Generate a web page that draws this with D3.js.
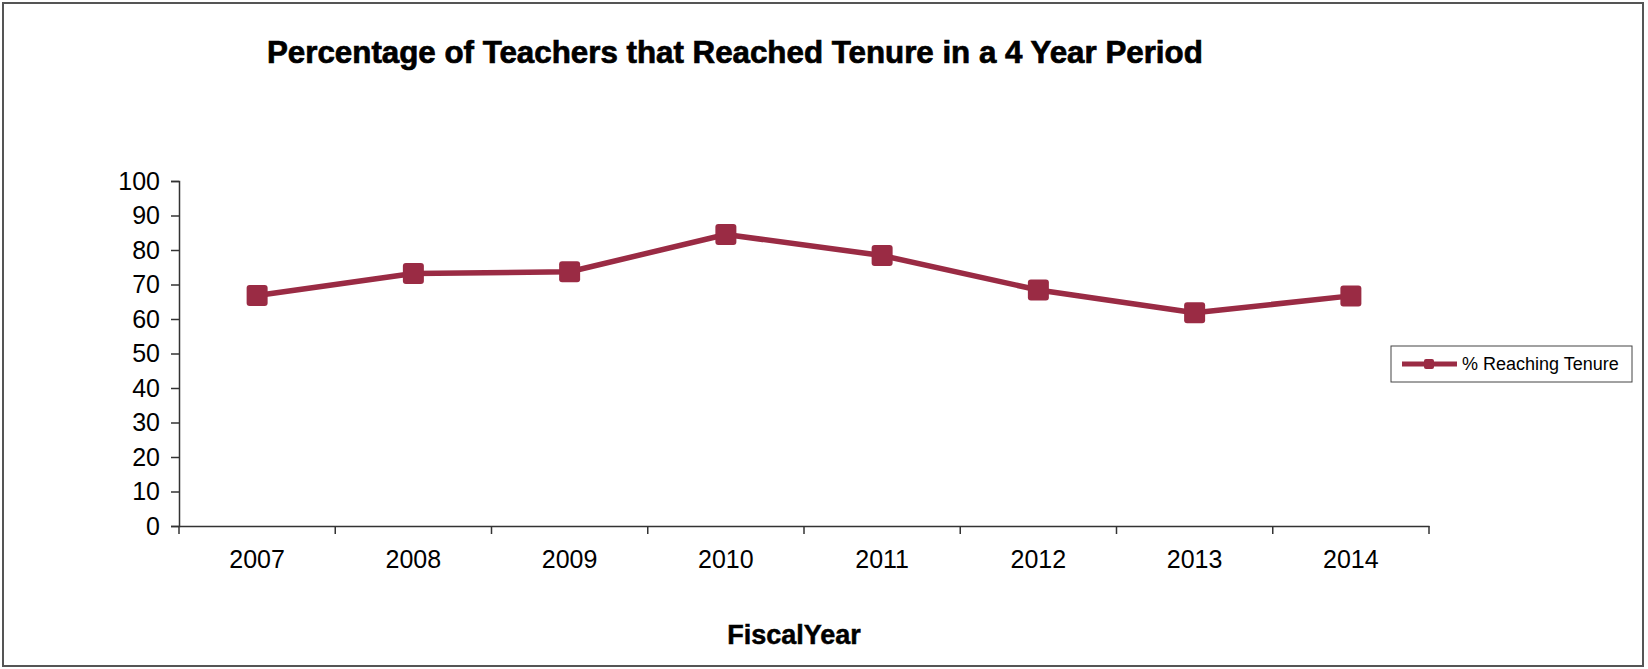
<!DOCTYPE html>
<html>
<head>
<meta charset="utf-8">
<script src="https://cdn.jsdelivr.net/npm/d3@7"></script>
<style>
html,body{margin:0;padding:0;background:#fff;}
text{font-family:"Liberation Sans",Arial,sans-serif;fill:#000;}
</style>
</head>
<body>
<svg id="chart" width="1648" height="669"></svg>
<script>
const years = ["2007","2008","2009","2010","2011","2012","2013","2014"];
const tenurePct = [66.8, 73.2, 73.7, 84.5, 78.4, 68.4, 61.8, 66.7];
const yTicks = [0,10,20,30,40,50,60,70,80,90,100];
const seriesName = "% Reaching Tenure";
const titleText = "Percentage of Teachers that Reached Tenure in a 4 Year Period";
const xTitle = "FiscalYear";

const color = "#9a2b44";
const svg = d3.select("#chart");

svg.append("rect").attr("x",3).attr("y",3).attr("width",1640).attr("height",663)
  .attr("fill","#fff").attr("stroke","#555").attr("stroke-width",2);

const x = d3.scaleBand().domain(years).range([179,1429]).padding(0);
const y = d3.scaleLinear().domain([0,100]).range([526,181]);

// y axis
const yAxis = svg.append("g").attr("transform","translate(179,0)")
  .call(d3.axisLeft(y).tickValues(yTicks).tickSize(8).tickPadding(11));
yAxis.select(".domain").attr("stroke","#333").attr("stroke-width",1.5);
yAxis.selectAll(".tick line").attr("stroke","#333").attr("stroke-width",1.5);
yAxis.selectAll("text").style("font-size","25px").attr("fill","#000");

// x axis
const xAxis = svg.append("g").attr("transform","translate(0,526)")
  .call(d3.axisBottom(x).tickSize(0).tickPadding(24));
xAxis.select(".domain").attr("stroke","#333").attr("stroke-width",1.5);
xAxis.selectAll("text").style("font-size","25px").attr("fill","#000");
// category boundary ticks
const bounds = years.map(d => x(d)).concat([x.range()[1]]);
svg.append("g").selectAll("line").data(bounds).join("line")
  .attr("x1",d=>d).attr("x2",d=>d).attr("y1",526).attr("y2",534)
  .attr("stroke","#333").attr("stroke-width",1.5);

// line
const line = d3.line().x((d,i)=>x(years[i])+x.bandwidth()/2).y(d=>y(d));
svg.append("path").datum(tenurePct).attr("d",line)
  .attr("fill","none").attr("stroke",color).attr("stroke-width",5.5).attr("stroke-linejoin","round");

const ms = 21;
svg.append("g").selectAll("rect").data(tenurePct).join("rect")
  .attr("x",(d,i)=>x(years[i])+x.bandwidth()/2-ms/2)
  .attr("y",d=>y(d)-ms/2)
  .attr("width",ms).attr("height",ms).attr("rx",3)
  .attr("fill",color);

// title
const t = svg.append("text").attr("x",267).attr("y",63)
  .style("font-size","28px").style("font-weight","bold")
  .attr("stroke","#000").attr("stroke-width",0.7).text(titleText);
const tw = t.node().getComputedTextLength();
t.style("font-size",(28*936/tw).toFixed(2)+"px");

// x title
svg.append("text").attr("x",794).attr("y",644).attr("text-anchor","middle")
  .style("font-size","27px").style("font-weight","bold")
  .attr("stroke","#000").attr("stroke-width",0.5).text(xTitle);

// legend
const lg = svg.append("g");
lg.append("rect").attr("x",1391).attr("y",346).attr("width",241).attr("height",36)
  .attr("fill","#fff").attr("stroke","#444").attr("stroke-width",1);
lg.append("line").attr("x1",1402).attr("x2",1457).attr("y1",364).attr("y2",364)
  .attr("stroke",color).attr("stroke-width",5);
lg.append("rect").attr("x",1424).attr("y",359).attr("width",10).attr("height",10).attr("rx",2).attr("fill",color);
lg.append("text").attr("x",1462).attr("y",370).style("font-size","18px").text(seriesName);
</script>
</body>
</html>
